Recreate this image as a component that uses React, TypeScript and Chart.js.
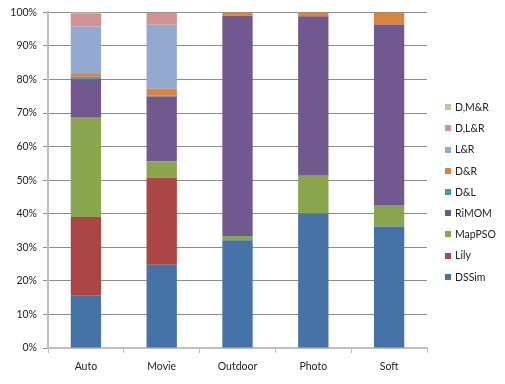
import React, { useEffect, useRef } from "react";
import { Chart, registerables } from "chart.js";

Chart.register(...registerables);

const categories = ["Auto", "Movie", "Outdoor", "Photo", "Soft"];
const seriesNames = ["DSSim", "Lily", "MapPSO", "RiMOM", "D&L", "D&R", "L&R", "D,L&R", "D,M&R"];
const seriesColors = ["#4572A7", "#AA4643", "#89A54E", "#71588F", "#4198AF", "#DB843D", "#93A9CF", "#D19392", "#B9CD96"];

const dssim = [15.6, 24.8, 32.1, 40.1, 36.2];
const lily = [23.4, 25.9, 0, 0, 0];
const mappso = [29.6, 4.9, 1.3, 11.2, 6.4];
const rimom = [11.6, 19.3, 65.6, 47.5, 53.8];
const dl = [0.6, 0.3, 0, 0, 0];
const dr = [0.8, 2.0, 1.0, 1.2, 3.6];
const lr = [14.2, 19.1, 0, 0, 0];
const dlr = [3.9, 3.7, 0, 0, 0];
const dmr = [0.3, 0, 0, 0, 0];

const seriesValues = [dssim, lily, mappso, rimom, dl, dr, lr, dlr, dmr];
const yTicks = [0, 10, 20, 30, 40, 50, 60, 70, 80, 90, 100];

const FONT = "Lato, 'Liberation Sans', sans-serif";
const FS = 10.5;

const legendPlugin = {
  id: "sideLegend",
  afterDraw(chart: any) {
    const ctx = chart.ctx;
    const ds = chart.data.datasets;
    const n = ds.length;
    const spacing = 21.2;
    const centerY = chart.height / 2;
    const x = 445;
    ctx.save();
    ctx.font = FS + "px " + FONT;
    ctx.textBaseline = "middle";
    ctx.textAlign = "left";
    for (let k = 0; k < n; k++) {
      const i = n - 1 - k;
      const y = centerY + (k - (n - 1) / 2) * spacing;
      ctx.fillStyle = ds[i].backgroundColor;
      ctx.fillRect(x, Math.round(y) - 3, 6, 6);
      ctx.fillStyle = "#222";
      ctx.fillText(ds[i].label, x + 10, y + 0.5);
    }
    ctx.restore();
  },
};

export default function App() {
  const ref = useRef<HTMLCanvasElement | null>(null);
  useEffect(() => {
    if (!ref.current) return;
    const chart = new Chart(ref.current, {
      type: "bar",
      data: {
        labels: categories,
        datasets: seriesNames.map((name, i) => ({
          label: name,
          data: seriesValues[i],
          backgroundColor: seriesColors[i],
          borderWidth: 0,
          barPercentage: 1,
          categoryPercentage: 0.4,
        })),
      },
      options: {
        responsive: false,
        animation: false,
        layout: { padding: { left: 0, top: 11, right: 78, bottom: 0 } },
        plugins: { legend: { display: false }, tooltip: { enabled: false } },
        scales: {
          x: {
            stacked: true,
            grid: { drawOnChartArea: false, drawTicks: true, tickLength: 5, color: "#bfbfbf", offset: true },
            border: { color: "#bfbfbf", width: 2 },
            ticks: { color: "#222", font: { family: FONT, size: FS }, padding: 7 },
            afterFit: (s: any) => { s.height = 36; },
          },
          y: {
            stacked: true,
            min: 0,
            max: 100,
            afterBuildTicks: (s: any) => { s.ticks = yTicks.map((v) => ({ value: v })); },
            grid: { color: "#8c8c8c", tickColor: "#8c8c8c", tickLength: 5, lineWidth: 1 },
            border: { color: "#bfbfbf", width: 2 },
            ticks: { color: "#222", font: { family: FONT, size: FS }, padding: 6, callback: (v: any) => v + "%" },
            afterFit: (s: any) => { s.width = 48; },
          },
        },
      },
      plugins: [legendPlugin],
    });
    return () => chart.destroy();
  }, []);
  return (
    <div style={{ position: "fixed", left: 0, top: 0, width: 505, height: 384, background: "#fff" }}>
      <canvas ref={ref} width={505} height={384} style={{ display: "block" }} />
    </div>
  );
}
